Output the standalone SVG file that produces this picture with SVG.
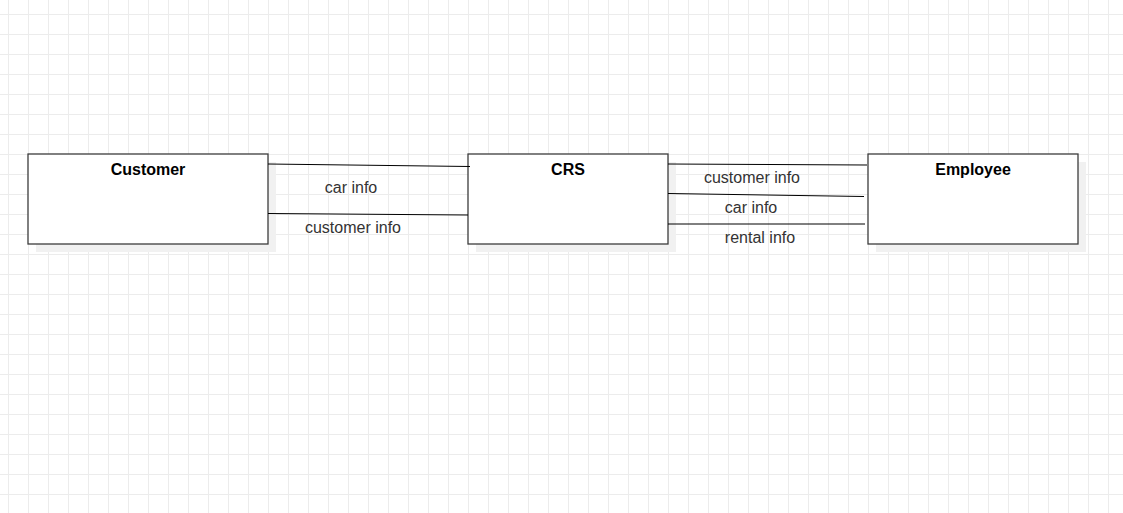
<svg xmlns="http://www.w3.org/2000/svg" width="1123" height="513" viewBox="0 0 1123 513">
<defs>
<pattern id="grid" x="8" y="14" width="20" height="20" patternUnits="userSpaceOnUse">
<path d="M0 0.5H20M0.5 0V20" fill="none" stroke="#ececec" stroke-width="1"/>
</pattern>
</defs>
<style>
.box{fill:#ffffff;stroke:#3c3c3c;stroke-width:1.3}
.shadow{fill:#f1f1f1}
.title{font-family:"Liberation Sans",Arial,sans-serif;font-size:16px;font-weight:bold;fill:#000;text-anchor:middle}
.lbl{font-family:"Liberation Sans",Arial,sans-serif;font-size:16px;fill:#333;text-anchor:middle}
.conn{stroke:#000;stroke-width:1;fill:none}
</style>
<rect width="1123" height="513" fill="#ffffff"/>
<rect width="1123" height="513" fill="url(#grid)"/>
<g id="customer">
<rect class="shadow" x="36" y="162" width="240" height="90"/>
<rect class="box" x="28" y="154" width="240" height="90"/>
<text class="title" x="148" y="175">Customer</text>
</g>
<g id="crs">
<rect class="shadow" x="476" y="162" width="200" height="90"/>
<rect class="box" x="468" y="154" width="200" height="90"/>
<text class="title" x="568" y="175">CRS</text>
</g>
<g id="employee">
<rect class="shadow" x="876" y="162" width="210" height="90"/>
<rect class="box" x="868" y="154" width="210" height="90"/>
<text class="title" x="973" y="175">Employee</text>
</g>
<g id="connectors">
<line class="conn" x1="268" y1="164" x2="470" y2="166.5"/>
<line class="conn" x1="268" y1="213.5" x2="468" y2="215"/>
<line class="conn" x1="668" y1="164" x2="867" y2="165"/>
<line class="conn" x1="668" y1="193.5" x2="864" y2="196.5"/>
<line class="conn" x1="668" y1="224" x2="865" y2="224"/>
<text class="lbl" x="351" y="193">car info</text>
<text class="lbl" x="353" y="233">customer info</text>
<text class="lbl" x="752" y="183">customer info</text>
<text class="lbl" x="751" y="213">car info</text>
<text class="lbl" x="760" y="243">rental info</text>
</g>
</svg>
